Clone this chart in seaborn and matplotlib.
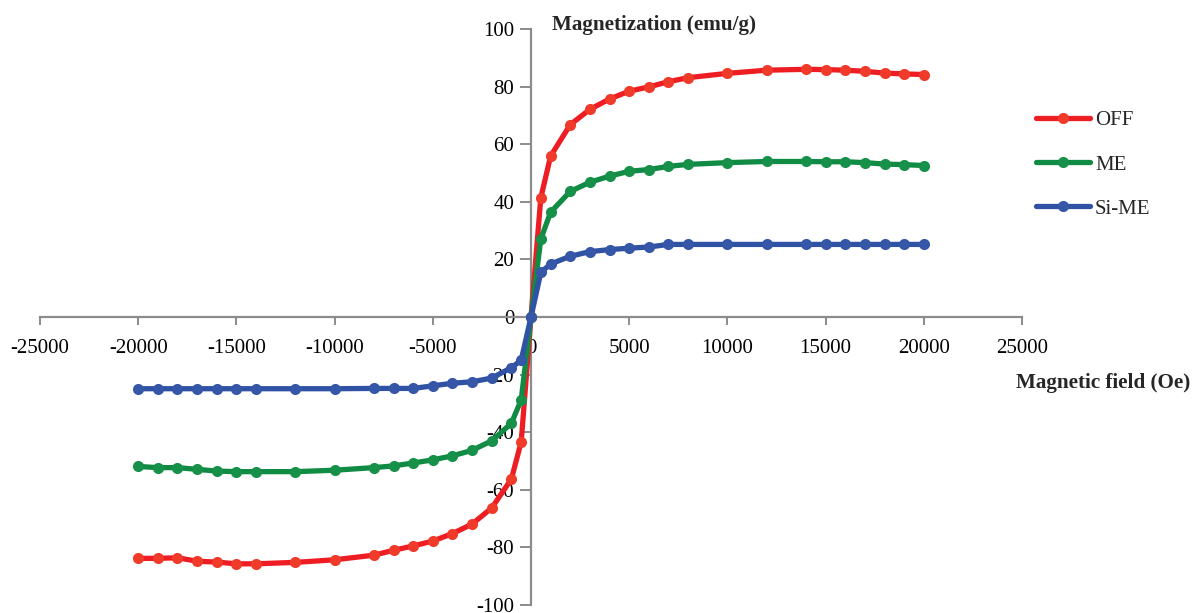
import numpy as np
import pandas as pd
import matplotlib
matplotlib.use("Agg")
import matplotlib.pyplot as plt
import seaborn as sns
from matplotlib.lines import Line2D

# ---- data ----
field_neg = [-20000, -19000, -18000, -17000, -16000, -15000, -14000, -12000, -10000,
             -8000, -7000, -6000, -5000, -4000, -3000, -2000, -1000, -500]
field_pos = [0, 500, 1000, 2000, 3000, 4000, 5000, 6000, 7000, 8000, 10000, 12000,
             14000, 15000, 16000, 17000, 18000, 19000, 20000]

off_neg = [-83.8, -83.8, -83.6, -84.8, -85.1, -85.7, -85.7, -85.2, -84.3,
           -82.7, -81.0, -79.5, -77.8, -75.2, -71.9, -66.3, -56.3, -43.4]
off_pos = [0.0, 41.4, 55.9, 66.8, 72.1, 75.7, 78.4, 79.9, 81.7, 83.1, 84.6, 85.7,
           86.0, 85.9, 85.7, 85.3, 84.7, 84.4, 84.2]

me_neg = [-51.9, -52.3, -52.3, -52.9, -53.5, -53.7, -53.7, -53.7, -53.2,
          -52.3, -51.7, -50.7, -49.6, -48.2, -46.3, -43.0, -36.9, -28.8]
me_pos = [0.0, 27.1, 36.4, 43.6, 46.8, 48.9, 50.6, 51.2, 52.3, 53.0, 53.6, 54.0,
          54.0, 53.9, 53.9, 53.6, 53.1, 52.9, 52.6]

sime_neg = [-24.9, -24.9, -24.9, -24.9, -24.9, -24.9, -24.9, -24.9, -24.9,
            -24.8, -24.8, -24.8, -23.9, -23.0, -22.5, -21.2, -17.6, -15.0]
sime_pos = [0.0, 15.5, 18.4, 21.1, 22.7, 23.4, 23.9, 24.3, 25.2, 25.2, 25.2, 25.2,
            25.2, 25.2, 25.2, 25.2, 25.2, 25.2, 25.2]

series_names = ["OFF", "ME", "Si-ME"]
x_ticks = [-25000, -20000, -15000, -10000, -5000, 0, 5000, 10000, 15000, 20000, 25000]
y_ticks = [-100, -80, -60, -40, -20, 0, 20, 40, 60, 80, 100]

fields = field_neg + field_pos
values = {"OFF": off_neg + off_pos, "ME": me_neg + me_pos, "Si-ME": sime_neg + sime_pos}
df = pd.concat([pd.DataFrame({"field": fields, "mag": values[n], "sample": n})
                for n in series_names], ignore_index=True)

line_colors = {"OFF": "#EE1D24", "ME": "#108B43", "Si-ME": "#2F52A4"}
marker_colors = {"OFF": "#F03A2A", "ME": "#17914A", "Si-ME": "#3656A8"}

sns.set_theme(style="white")
plt.rcParams["font.family"] = ["Liberation Serif", "DejaVu Serif"]

fig = plt.figure(figsize=(11.92, 6.13), dpi=100)
W, H = 1192, 613
ax = fig.add_axes([40 / W, (H - 605) / H, (1022 - 40) / W, (605 - 29) / H])

for n in series_names:
    sub = df[df["sample"] == n]
    sns.lineplot(data=sub, x="field", y="mag", ax=ax, color=line_colors[n],
                 linewidth=3.8, marker="o", markersize=8,
                 markerfacecolor=marker_colors[n], markeredgewidth=0,
                 sort=True, estimator=None, legend=False, zorder=3)

ax.set_xlim(-25000, 25000)
ax.set_ylim(-100, 100)
ax.set_xticks(x_ticks)
ax.set_yticks(y_ticks)
ax.set_xticklabels([str(t) for t in x_ticks])
ax.set_yticklabels([str(t) for t in y_ticks])
ax.set_xlabel("")
ax.set_ylabel("")

for s in ["top", "right"]:
    ax.spines[s].set_visible(False)
ax.spines["left"].set_position(("data", 0))
ax.spines["bottom"].set_position(("data", 0))
for s in ["left", "bottom"]:
    ax.spines[s].set_color("#8C8C8C")
    ax.spines[s].set_linewidth(1.6)
    ax.spines[s].set_zorder(1)

ax.tick_params(axis="both", which="major", direction="out", width=1.4,
               color="#8C8C8C", labelsize=15, labelcolor="black",
               bottom=True, left=True, top=False, right=False)
ax.tick_params(axis="x", length=6, pad=10)
ax.tick_params(axis="y", length=8, pad=4)
ax.set_facecolor("none")
ax.grid(False)

fig.text(552 / W, 1 - 25 / H, "Magnetization (emu/g)", fontsize=15.2,
         fontweight="bold", ha="left", va="center")
fig.text(1190 / W, 1 - 383 / H, "Magnetic field (Oe)", fontsize=15.2,
         fontweight="bold", ha="right", va="center")

handles = [Line2D([0], [0], color=line_colors[n], linewidth=3.8, marker="o",
                  markersize=8, markerfacecolor=marker_colors[n],
                  markeredgewidth=0) for n in series_names]
leg = fig.legend(handles, series_names, loc="upper left",
                 bbox_to_anchor=(1017 / W, 1 - 92 / H), frameon=False,
                 fontsize=15, handlelength=2.6, handletextpad=0.25,
                 labelspacing=1.18)

fig.savefig("out.png", dpi=100)
